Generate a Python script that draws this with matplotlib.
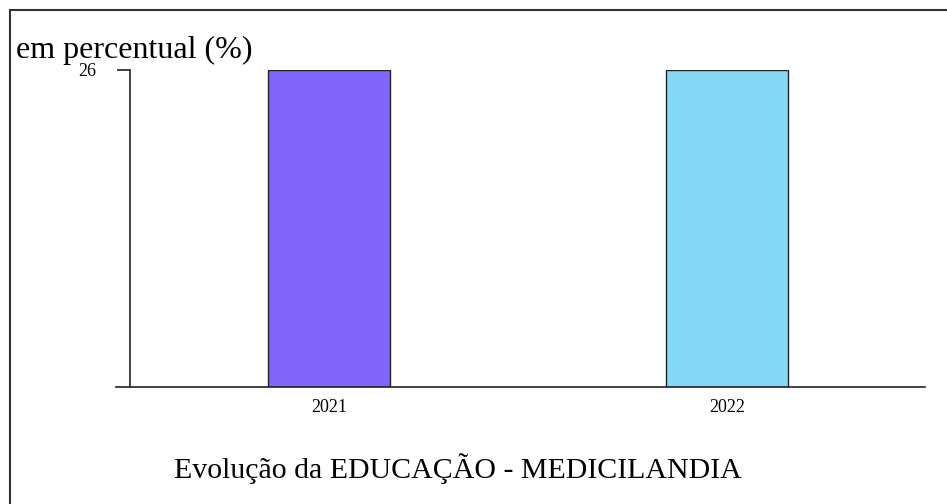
import matplotlib.pyplot as plt
from matplotlib.patches import Rectangle

anos = ['2021', '2022']
valores = [26, 26]
cores = ['#8066FA', '#84D8F5']
titulo = 'Evolução da EDUCAÇÃO - MEDICILANDIA'
rotulo_y = 'em percentual (%)'

plt.rcParams['font.family'] = ['Liberation Serif', 'DejaVu Serif']

fig = plt.figure(figsize=(9.47, 5.04), dpi=100)

# moldura em volta do grafico
fig.patches.append(Rectangle((9.5 / 947, -0.1), 1.2, 1 - 9.5 / 504 + 0.1,
                             transform=fig.transFigure, fill=False,
                             edgecolor='#333333', linewidth=1.5))

ax = fig.add_axes([116 / 947, 1 - 387 / 504, (925 - 116) / 947, (387 - 70) / 504])
x = list(range(len(anos)))
ax.bar(x, valores, width=0.307, color=cores, edgecolor='#222222', linewidth=1)

ax.set_xlim(-0.535, 1.497)
ax.set_ylim(0, 26)
ax.set_xticks(x)
ax.set_xticklabels(anos)
ax.set_yticks([26])
ax.set_yticklabels(['26'])
ax.tick_params(axis='x', length=0, pad=9, labelsize=13)
ax.tick_params(axis='y', length=9.5, width=1.2, pad=15, color='#222222', labelsize=13)
for lbl in ax.get_yticklabels():
    lbl.set_va('top')

for s in ['top', 'right']:
    ax.spines[s].set_visible(False)
ax.spines['left'].set_position(('data', -0.5))
ax.spines['left'].set_color('#222222')
ax.spines['bottom'].set_color('#222222')
ax.spines['left'].set_linewidth(1.2)
ax.spines['bottom'].set_linewidth(1.2)

fig.text(16 / 947, 1 - 58 / 504, rotulo_y, fontsize=23, ha='left', va='baseline')
fig.text(458 / 947, 1 - 478 / 504, titulo, fontsize=21.5, ha='center', va='baseline')

fig.savefig('out.png', dpi=100)
